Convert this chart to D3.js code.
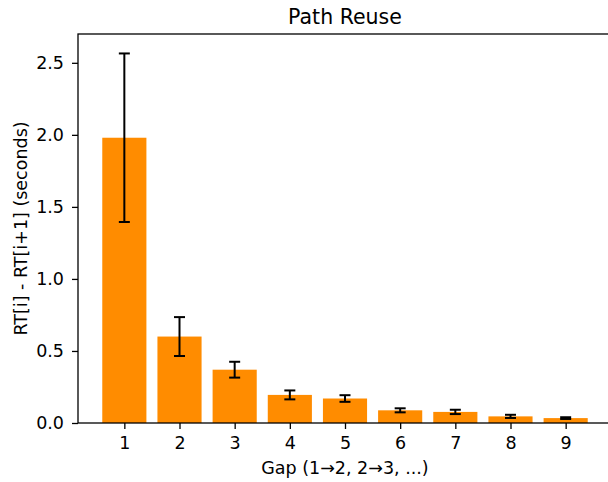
<!DOCTYPE html>
<html>
<head>
<meta charset="utf-8">
<script src="https://cdn.jsdelivr.net/npm/d3@7"></script>
<style>
  body { margin: 0; background: #fff; }
  text { font-family: "DejaVu Sans", sans-serif; fill: #000; }
</style>
</head>
<body>
<div id="container"></div>
<script>
// data
const gaps = [1, 2, 3, 4, 5, 6, 7, 8, 9];
const means = [1.98, 0.60, 0.37, 0.195, 0.17, 0.088, 0.077, 0.046, 0.034];
const errs = [0.585, 0.135, 0.055, 0.031, 0.023, 0.014, 0.015, 0.011, 0.006];
const yTicks = [0, 0.5, 1.0, 1.5, 2.0, 2.5];

const width = 608,
      height = 482,
      mLeft = 78, mRight = 612, mTop = 34, mBottom = 423;

const svg = d3.select('#container')
              .append("svg")
              .attr("width", width)
              .attr("height", height);

const xScale = d3.scaleLinear()
                 .domain([0.16, 9.84])
                 .range([mLeft, mRight]);

const yScale = d3.scaleLinear()
                 .domain([0, 2.7])
                 .range([mBottom, mTop]);

const barW = xScale(1.8) - xScale(1);

// bars
svg.append("g").selectAll("rect").data(gaps).enter().append("rect")
   .attr("x", (d, i) => xScale(d) - barW / 2)
   .attr("y", (d, i) => yScale(means[i]))
   .attr("width", barW)
   .attr("height", (d, i) => yScale(0) - yScale(means[i]))
   .style("fill", "#ff8c00");

// error bars
const eb = svg.append("g").selectAll("g").data(gaps).enter().append("g")
              .style("stroke", "#000").style("stroke-width", 2);
eb.append("line")
  .attr("x1", d => xScale(d)).attr("x2", d => xScale(d))
  .attr("y1", (d, i) => yScale(means[i] + errs[i]))
  .attr("y2", (d, i) => yScale(means[i] - errs[i]));
[1, -1].forEach(s => {
  eb.append("line")
    .attr("x1", d => xScale(d) - 5.5).attr("x2", d => xScale(d) + 5.5)
    .attr("y1", (d, i) => yScale(means[i] + s * errs[i]))
    .attr("y2", (d, i) => yScale(means[i] + s * errs[i]))
    .style("stroke-width", 2);
});

// axes
const xAxis = d3.axisBottom(xScale).tickValues(gaps).tickFormat(d3.format("d"))
                .tickSize(6).tickPadding(8);
const yAxis = d3.axisLeft(yScale).tickValues(yTicks).tickFormat(d3.format(".1f"))
                .tickSize(6).tickPadding(8);

svg.append("g")
  .attr("transform", "translate(0," + mBottom + ")")
  .call(xAxis)
  .call(g => g.select(".domain").remove());

svg.append("g")
  .attr("transform", "translate(" + mLeft + ",0)")
  .call(yAxis)
  .call(g => g.select(".domain").remove());

svg.selectAll(".tick text").style("font-size", "17.5px").style("font-family", "DejaVu Sans");
svg.selectAll(".tick line").style("stroke-width", 1.3);

// frame
svg.append("rect")
   .attr("x", mLeft).attr("y", mTop)
   .attr("width", mRight - mLeft).attr("height", mBottom - mTop)
   .style("fill", "none").style("stroke", "#000").style("stroke-width", 1.3);

// labels
svg.append("text")
   .attr("x", (mLeft + mRight) / 2).attr("y", 24)
   .attr("text-anchor", "middle")
   .style("font-size", "20.5px")
   .text("Path Reuse");

svg.append("text")
   .attr("x", (mLeft + mRight) / 2).attr("y", 474)
   .attr("text-anchor", "middle")
   .style("font-size", "17.5px")
   .text("Gap (1\u21922, 2\u21923, ...)");

svg.append("text")
   .attr("transform", "translate(27," + ((mTop + mBottom) / 2) + ") rotate(-90)")
   .attr("text-anchor", "middle")
   .style("font-size", "17.5px")
   .text("RT[i] - RT[i+1] (seconds)");
</script>
</body>
</html>
